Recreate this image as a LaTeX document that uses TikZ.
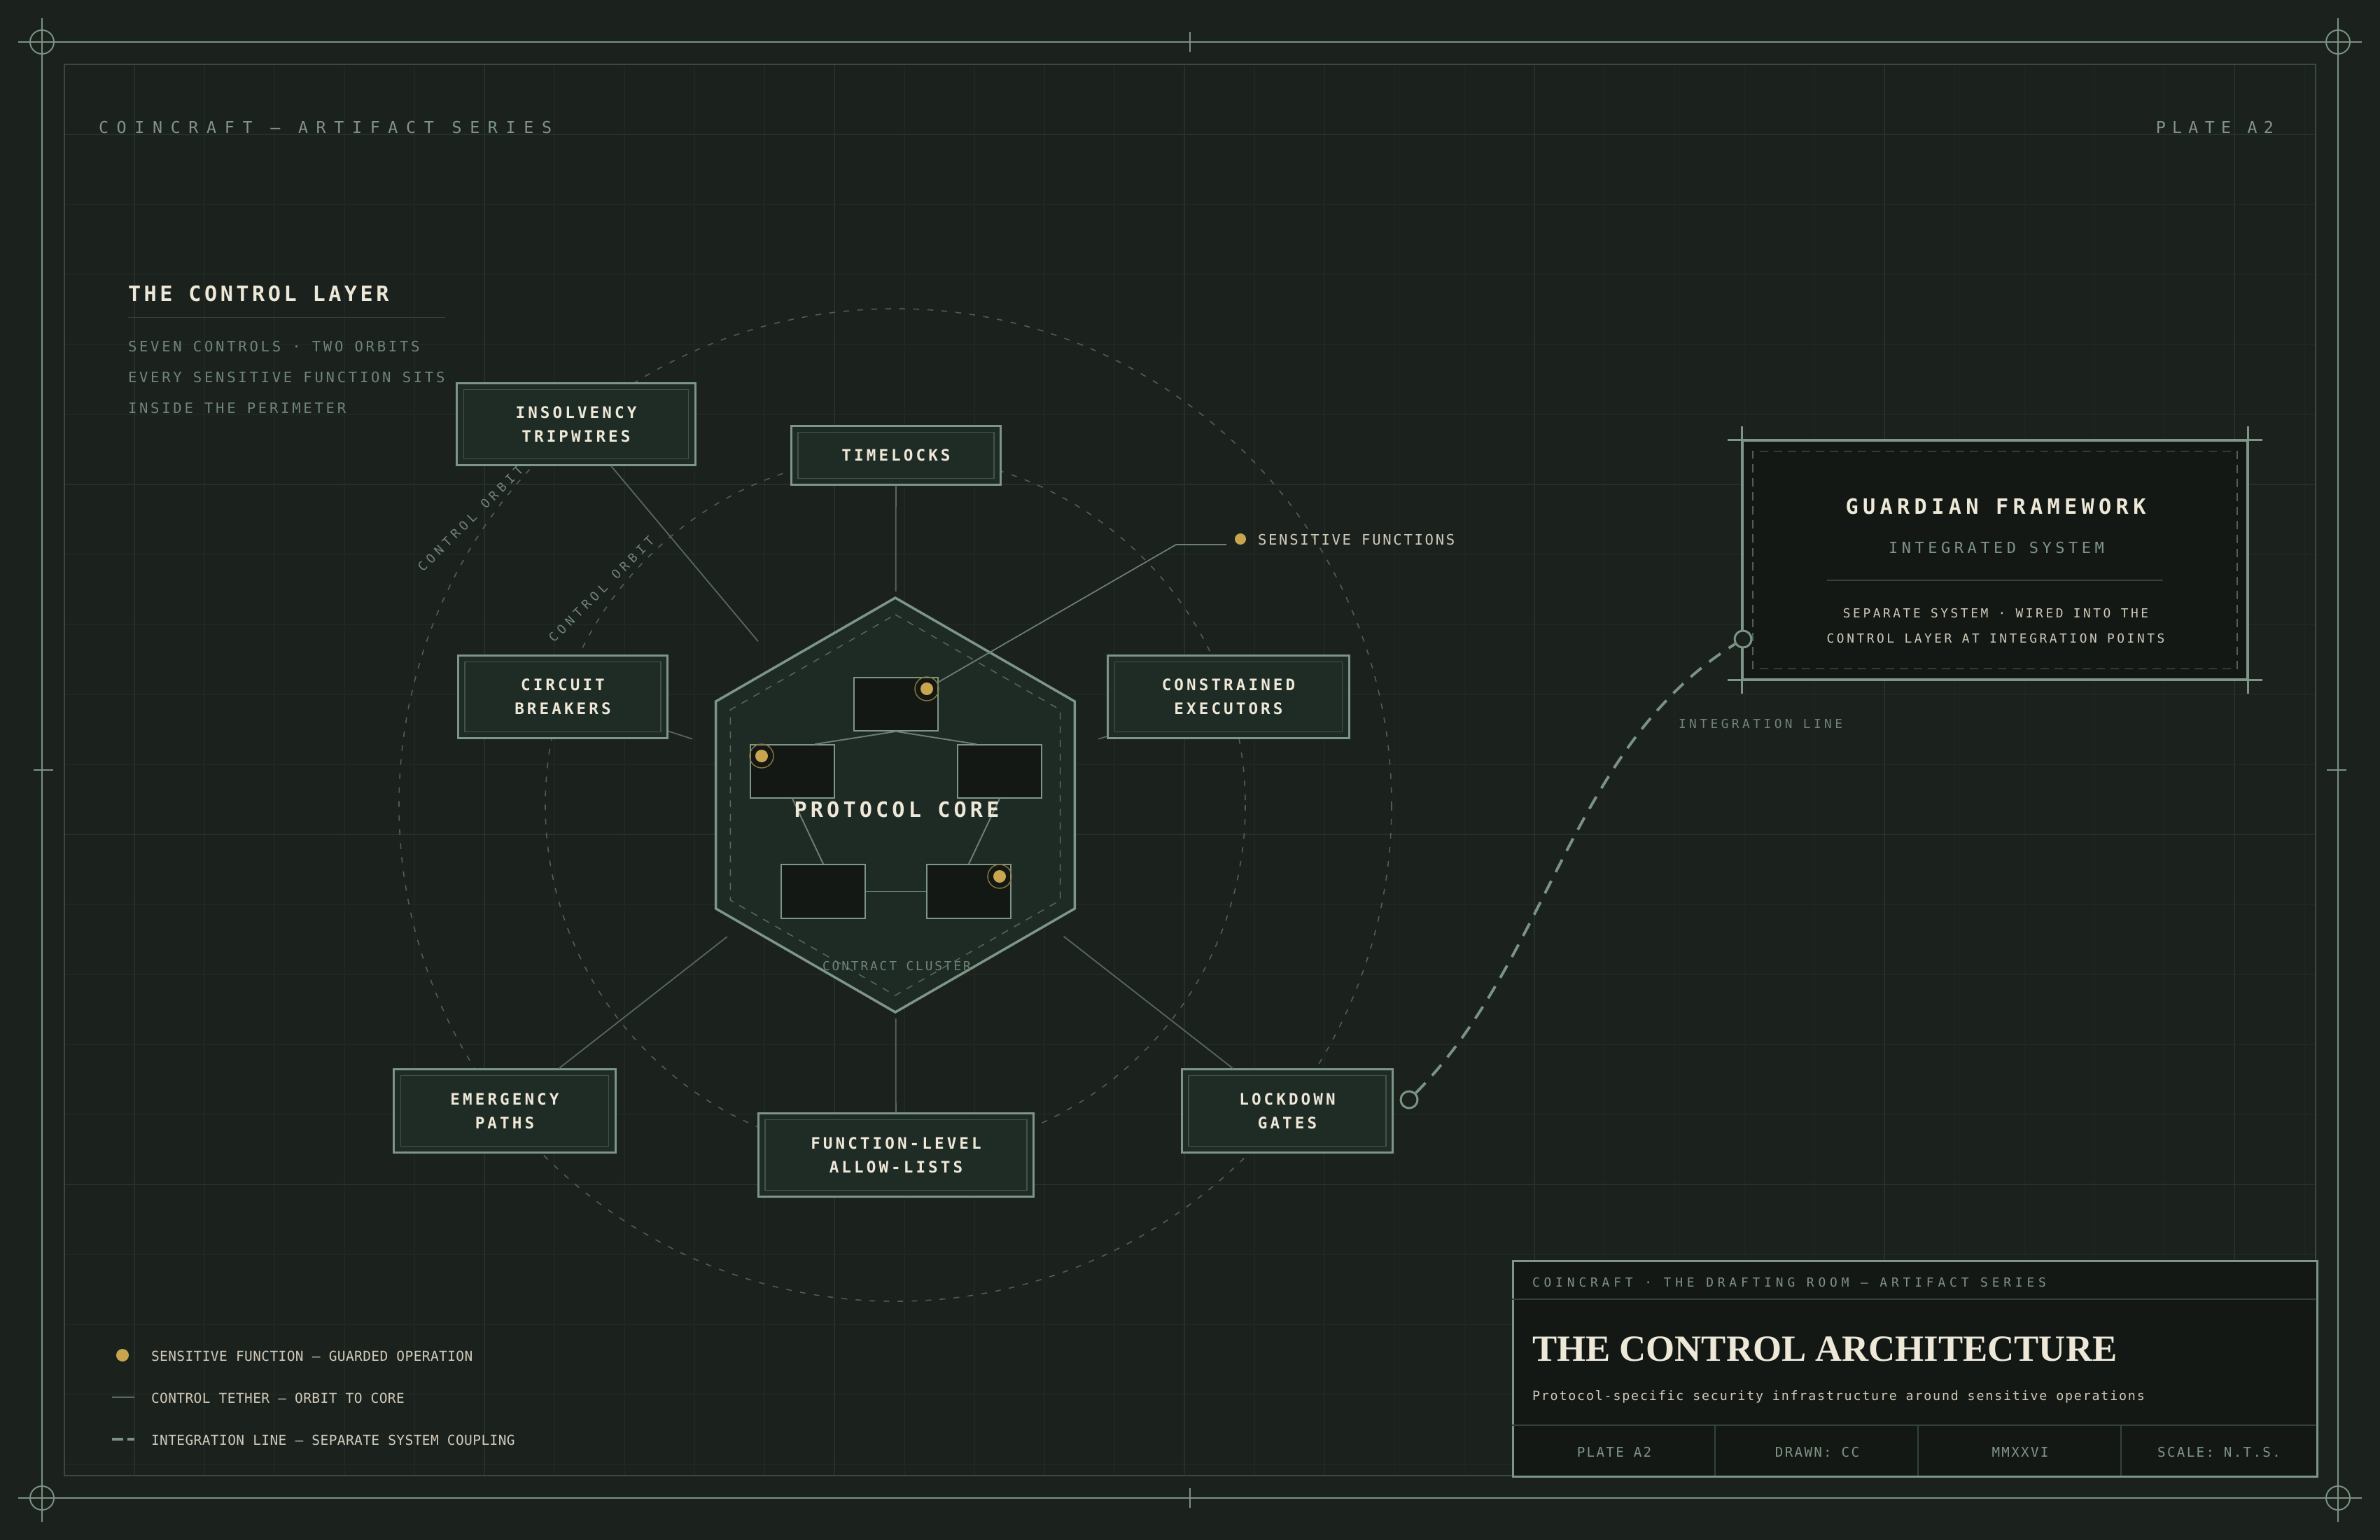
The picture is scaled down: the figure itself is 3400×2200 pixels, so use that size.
\documentclass[tikz,border=0pt]{standalone}
\usepackage{fontspec}
\usetikzlibrary{calc}
\setmainfont{DejaVu Sans Mono}
\newfontfamily\fhead[LetterSpace=50]{DejaVu Sans Mono}
\newfontfamily\fplate[LetterSpace=40]{DejaVu Sans Mono}
\newfontfamily\fsect[LetterSpace=15]{DejaVu Sans Mono}
\newfontfamily\fsub[LetterSpace=18]{DejaVu Sans Mono}
\newfontfamily\fclu[LetterSpace=16]{DejaVu Sans Mono}
\newfontfamily\fnode[LetterSpace=18]{DejaVu Sans Mono}
\newfontfamily\fcore[LetterSpace=17]{DejaVu Sans Mono}
\newfontfamily\forb[LetterSpace=33]{DejaVu Sans Mono}
\newfontfamily\fsens[LetterSpace=13]{DejaVu Sans Mono}
\newfontfamily\fguard[LetterSpace=21]{DejaVu Sans Mono}
\newfontfamily\fint[LetterSpace=25]{DejaVu Sans Mono}
\newfontfamily\fsep[LetterSpace=20]{DejaVu Sans Mono}
\newfontfamily\ftbh[LetterSpace=33]{DejaVu Sans Mono}
\newfontfamily\fpsub[LetterSpace=10]{DejaVu Sans Mono}
\newfontfamily\ffoot[LetterSpace=12]{DejaVu Sans Mono}
\newfontfamily\fleg[LetterSpace=2]{DejaVu Sans Mono}
\newfontfamily\ftitle{Liberation Serif}

\definecolor{bg}{HTML}{1B211D}
\definecolor{gridmin}{HTML}{1F2823}
\definecolor{gridmaj}{HTML}{26312B}
\definecolor{framec}{HTML}{7A9384}
\definecolor{innerframe}{HTML}{3A4A41}
\definecolor{orbitc}{HTML}{4D6055}
\definecolor{tetherc}{HTML}{56695E}
\definecolor{nodefill}{HTML}{1F2B25}
\definecolor{nodeborder}{HTML}{7D9688}
\definecolor{nodeinner}{HTML}{425449}
\definecolor{corefill}{HTML}{1E2A24}
\definecolor{darkc}{HTML}{131814}
\definecolor{cream}{HTML}{EEE8D8}
\definecolor{sage}{HTML}{7F9586}
\definecolor{dimc}{HTML}{6F8577}
\definecolor{midc}{HTML}{D0CAB9}
\definecolor{gold}{HTML}{C9A54F}
\definecolor{goldring}{HTML}{8C7642}
\definecolor{sepc}{HTML}{34433A}
\definecolor{linkc}{HTML}{6B7F72}

\tikzset{
  txt/.style={inner sep=0pt, outer sep=0pt},
  ctrlbox/.style={draw=nodeborder, line width=0.85pt, fill=nodefill, align=center,
    text=cream, inner sep=0pt, font={\fnode\bfseries\fontsize{6.43}{9.67}\selectfont}},
  innerline/.style={draw=nodeinner, line width=0.4pt},
  darkbox/.style={draw=nodeborder, line width=0.5pt, fill=darkc, inner sep=0pt},
  sdot/.style={circle, fill=gold, draw=none, minimum size=0.18cm, inner sep=0pt},
  sring/.style={circle, draw=goldring, line width=0.4pt, minimum size=0.34cm, inner sep=0pt},
  orbit/.style={draw=orbitc, line width=0.45pt, dash pattern=on 2.3pt off 3.4pt},
  tether/.style={draw=tetherc, line width=0.5pt},
  linkline/.style={draw=linkc, line width=0.55pt},
  frameline/.style={draw=framec, line width=0.75pt},
  port/.style={circle, draw=framec, line width=0.85pt, fill=bg, minimum size=0.24cm, inner sep=0pt},
  integ/.style={draw=framec, line width=1.1pt, dash pattern=on 5.7pt off 4pt},
}

\begin{document}
\begin{tikzpicture}[x=0.01cm,y=-0.01cm]
\useasboundingbox (0,0) rectangle (3400,2200);
\fill[bg] (0,0) rectangle (3400,2200);

% grid
\foreach \x in {192,292,...,3292} \draw[gridmin, line width=0.3pt] (\x,92) -- (\x,2108);
\foreach \y in {192,292,...,2092} \draw[gridmin, line width=0.3pt] (92,\y) -- (3308,\y);
\foreach \x in {192,692,...,3192} \draw[gridmaj, line width=0.45pt] (\x,92) -- (\x,2108);
\foreach \y in {192,692,1192,1692} \draw[gridmaj, line width=0.45pt] (92,\y) -- (3308,\y);

% frames
\draw[innerframe, line width=0.45pt] (92,92) rectangle (3308,2108);
\draw[frameline] (26,60) -- (3374,60);
\draw[frameline] (26,2140) -- (3374,2140);
\draw[frameline] (60,26) -- (60,2174);
\draw[frameline] (3340,26) -- (3340,2174);
\foreach \p in {(60,60),(3340,60),(60,2140),(3340,2140)} \draw[framec, line width=0.55pt] \p circle[radius=17];
\draw[frameline, line width=0.6pt] (1700,46) -- (1700,74);
\draw[frameline, line width=0.6pt] (1700,2126) -- (1700,2154);
\draw[frameline, line width=0.6pt] (48,1100) -- (76,1100);
\draw[frameline, line width=0.6pt] (3324,1100) -- (3352,1100);

% header
\node[txt, anchor=base west, text=sage, font={\fhead\fontsize{6.63}{8}\selectfont}] (hdl) at (141,190) {COINCRAFT — ARTIFACT SERIES};
\node[txt, anchor=base east, text=sage, font={\fplate\fontsize{6.63}{8}\selectfont}] (hdr) at (3248,190) {PLATE A2};

% section intro
\node[txt, anchor=base west, text=cream, font={\fsect\bfseries\fontsize{8.59}{10}\selectfont}] (sect) at (183,430) {THE CONTROL LAYER};
\draw[sepc, line width=0.5pt] (183,453.5) -- (636,453.5);
\node[txt, anchor=base west, text=dimc, font={\fsub\fontsize{5.86}{7}\selectfont}] (s1) at (183,502.5) {SEVEN CONTROLS · TWO ORBITS};
\node[txt, anchor=base west, text=dimc, font={\fsub\fontsize{5.86}{7}\selectfont}] (s2) at (183,546.5) {EVERY SENSITIVE FUNCTION SITS};
\node[txt, anchor=base west, text=dimc, font={\fsub\fontsize{5.86}{7}\selectfont}] (s3) at (183,590.5) {INSIDE THE PERIMETER};

% core center and orbits
\coordinate (core) at (1279,1150);
\draw[orbit] (core) circle[radius=709];
\draw[orbit] (core) circle[radius=500];
\node[txt, rotate=45, text=dimc, font={\forb\fontsize{5.07}{6}\selectfont}] (olab1) at (672,741) {CONTROL ORBIT};
\node[txt, rotate=45, text=dimc, font={\forb\fontsize{5.07}{6}\selectfont}] (olab2) at (859,842) {CONTROL ORBIT};

% hexagon core
\fill[corefill] (1279,854) -- (1535.3,1002) -- (1535.3,1298) -- (1279,1446) -- (1022.7,1298) -- (1022.7,1002) -- cycle;
\draw[nodeborder, line width=1pt, line join=miter] (1279,854) -- (1535.3,1002) -- (1535.3,1298) -- (1279,1446) -- (1022.7,1298) -- (1022.7,1002) -- cycle;
\draw[orbitc!80!nodeborder, line width=0.4pt, dash pattern=on 2.8pt off 2.8pt] (1279,878) -- (1514.6,1014) -- (1514.6,1286) -- (1279,1422) -- (1043.4,1286) -- (1043.4,1014) -- cycle;
\node[txt, text=dimc, anchor=base, font={\fclu\fontsize{5.07}{6}\selectfont}] (clu) at (1281,1386.5) {CONTRACT CLUSTER};

% inner contract boxes
\node[darkbox, minimum width=1.2cm, minimum height=0.76cm] (b1) at (1280,1006) {};
\node[darkbox, minimum width=1.2cm, minimum height=0.76cm] (b2) at (1132,1102) {};
\node[darkbox, minimum width=1.2cm, minimum height=0.76cm] (b3) at (1428,1102) {};
\node[darkbox, minimum width=1.2cm, minimum height=0.77cm] (b4) at (1176,1273.5) {};
\node[darkbox, minimum width=1.2cm, minimum height=0.77cm] (b5) at (1384,1273.5) {};
\draw[linkline] (b1.south) -- ($(b2.north)+(32,0)$);
\draw[linkline] (b1.south) -- ($(b3.north)+(-33,0)$);
\draw[linkline] (b2.south) -- (b4.north);
\draw[linkline] (b3.south) -- (b5.north);
\draw[linkline] (b4.east) -- (b5.west);
\node[txt, text=cream, font={\fcore\bfseries\fontsize{8.59}{10}\selectfont}] (pcore) at (1281,1156) {PROTOCOL CORE};

% sensitive dots
\node[sring] (d1) at (1324,984) {};
\node[sdot] at (d1) {};
\node[sring] (d2) at (1088,1080) {};
\node[sdot] at (d2) {};
\node[sring] (d5) at (1428,1252) {};
\node[sdot] at (d5) {};

% callout
\coordinate (sfend) at (1752,778);
\draw[tether, draw=linkc] (d1) -- (1680,778) -- (sfend);
\node[sdot, minimum size=0.16cm] (sfdot) at (1772,770) {};
\node[txt, anchor=base west, text=midc, font={\fsens\fontsize{5.86}{7}\selectfont}] (sftxt) at (1797,778.5) {SENSITIVE FUNCTIONS};

% control nodes
\node[ctrlbox, minimum width=3.4cm, minimum height=1.16cm] (ins) at (823,606) {INSOLVENCY\\TRIPWIRES};
\node[ctrlbox, minimum width=2.99cm, minimum height=0.83cm] (tim) at (1280,650.5) {TIMELOCKS};
\node[ctrlbox, minimum width=2.99cm, minimum height=1.17cm] (cir) at (804,995.5) {CIRCUIT\\BREAKERS};
\node[ctrlbox, minimum width=3.44cm, minimum height=1.17cm] (con) at (1755,995.5) {CONSTRAINED\\EXECUTORS};
\node[ctrlbox, minimum width=3.16cm, minimum height=1.18cm] (eme) at (721,1587) {EMERGENCY\\PATHS};
\node[ctrlbox, minimum width=3.93cm, minimum height=1.18cm] (fun) at (1280,1650) {FUNCTION-LEVEL\\ALLOW-LISTS};
\node[ctrlbox, minimum width=3.01cm, minimum height=1.18cm] (loc) at (1839,1587) {LOCKDOWN\\GATES};
\foreach \n in {ins,tim,cir,con,eme,fun,loc} {
  \draw[innerline] ($(\n.south west)+(11,-10)$) rectangle ($(\n.north east)+(-11,10)$);
  \draw[tether] (\n) -- ($(core)!3.05cm!(\n)$);
}

% guardian framework
\node[draw=nodeborder, line width=0.9pt, fill=darkc, minimum width=7.2cm, minimum height=3.4cm, inner sep=0pt] (guard) at (2850,800) {};
\draw[nodeborder, line width=0.9pt] ($(guard.north west)+(-20,0)$) -- ($(guard.north east)+(20,0)$);
\draw[nodeborder, line width=0.9pt] ($(guard.south west)+(-20,0)$) -- ($(guard.south east)+(20,0)$);
\draw[nodeborder, line width=0.9pt] ($(guard.north west)+(0,-19)$) -- ($(guard.south west)+(0,19)$);
\draw[nodeborder, line width=0.9pt] ($(guard.north east)+(0,-19)$) -- ($(guard.south east)+(0,19)$);
\draw[orbitc, line width=0.45pt, dash pattern=on 3.4pt off 2.3pt] ($(guard.south west)+(16,-16)$) rectangle ($(guard.north east)+(-16,16)$);
\node[txt, anchor=base, text=cream, font={\fguard\bfseries\fontsize{8.59}{10}\selectfont}] (gt1) at (2851,734) {GUARDIAN FRAMEWORK};
\node[txt, anchor=base, text=sage, font={\fint\fontsize{6.26}{7}\selectfont}] (gt2) at (2852,790) {INTEGRATED SYSTEM};
\draw[sepc, line width=0.5pt] (2610,829) -- (3090,829);
\node[txt, anchor=base, text=midc, align=center, font={\fsep\fontsize{5.07}{10.24}\selectfont}] (gt3) at (2851,882.5) {SEPARATE SYSTEM · WIRED INTO THE};
\node[txt, anchor=base, text=midc, align=center, font={\fsep\fontsize{5.07}{10.24}\selectfont}] (gt4) at (2851,918.5) {CONTROL LAYER AT INTEGRATION POINTS};

% integration line
\node[port] (gport) at (2490,913) {};
\node[port] (lport) at (2013,1571) {};
\draw[integ] (lport) .. controls (2212,1370) and (2245,1065) .. (gport);
\node[txt, anchor=base west, text=dimc, font={\fint\fontsize{5.07}{6}\selectfont}] (itxt) at (2398,1040.5) {INTEGRATION LINE};

% title block
\node[draw=nodeborder, line width=0.85pt, fill=darkc, minimum width=11.48cm, minimum height=3.08cm, inner sep=0pt, anchor=north west] (tb) at (2160,1800) {};
\draw[sepc, line width=0.7pt] (2160,1856) -- (3308,1856);
\draw[sepc, line width=0.7pt] (2160,2036) -- (3308,2036);
\foreach \x in {2450,2740,3030} \draw[sepc, line width=0.45pt] (\x,2036) -- (\x,2108);
\node[txt, anchor=base west, text=sage, font={\ftbh\fontsize{5.07}{6}\selectfont}] (tbh) at (2189,1838.5) {COINCRAFT · THE DRAFTING ROOM — ARTIFACT SERIES};
\node[txt, anchor=base west, text=cream, font={\ftitle\bfseries\fontsize{15}{18}\selectfont}] (tbt) at (2189,1944) {THE CONTROL ARCHITECTURE};
\node[txt, anchor=base west, text=midc, font={\fpsub\fontsize{5.2}{6}\selectfont}] (tbs) at (2189,2000) {Protocol-specific security infrastructure around sensitive operations};
\node[txt, anchor=base, text=sage, font={\ffoot\fontsize{5.46}{6}\selectfont}] (f1) at (2306,2081) {PLATE A2};
\node[txt, anchor=base, text=sage, font={\ffoot\fontsize{5.46}{6}\selectfont}] (f2) at (2596,2081) {DRAWN: CC};
\node[txt, anchor=base, text=sage, font={\ffoot\fontsize{5.46}{6}\selectfont}] (f3) at (2886,2081) {MMXXVI};
\node[txt, anchor=base, text=sage, font={\ffoot\fontsize{5.46}{6}\selectfont}] (f4) at (3170,2081) {SCALE: N.T.S.};

% legend
\node[sdot] (lg1) at (175,1936) {};
\node[txt, anchor=base west, text=midc, font={\fleg\fontsize{5.55}{6}\selectfont}] (lt1) at (216,1944.5) {SENSITIVE FUNCTION — GUARDED OPERATION};
\coordinate (lg2a) at (160,1996);
\coordinate (lg2b) at (192,1996);
\draw[tether] (lg2a) -- (lg2b);
\node[txt, anchor=base west, text=midc, font={\fleg\fontsize{5.55}{6}\selectfont}] (lt2) at (216,2004.5) {CONTROL TETHER — ORBIT TO CORE};
\coordinate (lg3a) at (160,2056);
\coordinate (lg3b) at (192,2056);
\draw[framec, line width=1.1pt, dash pattern=on 4.5pt off 1.7pt] (lg3a) -- (lg3b);
\node[txt, anchor=base west, text=midc, font={\fleg\fontsize{5.55}{6}\selectfont}] (lt3) at (216,2064.5) {INTEGRATION LINE — SEPARATE SYSTEM COUPLING};
\end{tikzpicture}
\end{document}
